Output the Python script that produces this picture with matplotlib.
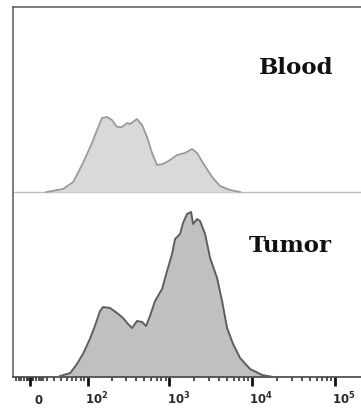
import numpy as np
import matplotlib
matplotlib.use("Agg")
import matplotlib.pyplot as plt
from matplotlib.transforms import ScaledTranslation

# ---------------- data ----------------
blood_x = [20, 44, 63, 86, 113, 131, 151, 175, 201, 232, 267, 307, 334, 406, 468,
           538, 618, 711, 839, 1020, 1240, 1548, 1884, 2163, 2555, 3280, 4100, 5420, 7150]
blood_y = [0, 6, 20, 58, 98, 124, 148, 150, 144, 130, 130, 138, 136, 146, 134,
           110, 78, 54, 56, 64, 74, 78, 86, 78, 58, 30, 12, 4, 0]

tumor_x = [39, 57, 71, 86, 106, 123, 143, 156, 190, 232, 275, 316, 354, 406, 468,
           523, 584, 672, 817, 939, 1079, 1173, 1348, 1465, 1637, 1831, 1935, 2163,
           2350, 2703, 3107, 3770, 4333, 4980, 5886, 7150, 9440, 13190, 17900]
tumor_y = [2, 8, 26, 46, 76, 102, 132, 140, 138, 128, 118, 106, 98, 112, 110,
           102, 122, 152, 176, 212, 246, 276, 286, 308, 326, 330, 306, 316,
           312, 286, 238, 198, 152, 98, 66, 38, 16, 4, 0]

labels = ["Blood", "Tumor"]
major_ticks = [0, 1e2, 1e3, 1e4, 1e5]
major_labels = [r"$\mathbf{0}$", r"$\mathbf{10^{2}}$", r"$\mathbf{10^{3}}$",
                r"$\mathbf{10^{4}}$", r"$\mathbf{10^{5}}$"]
near_zero_ticks = [-16, -13, -10, -7, -4, -2, 2, 4, 7, 10, 13, 16]
minor_ticks = (near_zero_ticks + [k * 10 for k in range(2, 10)] +
               [k * 100 for k in range(2, 10)] + [k * 1000 for k in range(2, 10)] +
               [k * 10000 for k in range(2, 10)])
offset = 370

# ---------------- scale ----------------
W = 41.6
def fwd(x):
    return np.arcsinh(np.asarray(x, dtype=float) / W) / np.log(10)
def inv(u):
    return W * np.sinh(np.asarray(u, dtype=float) * np.log(10))

fig = plt.figure(figsize=(3.61, 4.15), dpi=100)
ax = fig.add_axes([12.5 / 361, 38 / 415, (361 - 12.5) / 361, (377 - 7) / 415])
ax.set_xscale("function", functions=(fwd, inv))
ax.set_xlim(-21, 2.06e5)
ax.set_ylim(0, 2 * offset)

# Blood (upper, offset)
ax.axhline(offset, color="#bdbdbd", lw=1.0, zorder=1)
ax.fill_between(blood_x, offset, np.array(blood_y) + offset, color="#d9d9d9", lw=0, zorder=2)
ax.plot(blood_x, np.array(blood_y) + offset, color="#9a9a9a", lw=1.3, zorder=3)

# Tumor (lower)
ax.fill_between(tumor_x, 0, tumor_y, color="#c0c0c0", lw=0, zorder=2)
ax.plot(tumor_x, tumor_y, color="#5e5e5e", lw=1.4, zorder=3)

ax.text(333 / 361, (415 - 74) / 415, labels[0], transform=fig.transFigure,
        ha="right", va="baseline", fontsize=16.5, fontweight="bold",
        family="DejaVu Serif", color="#111111")
ax.text(332 / 361, (415 - 252) / 415, labels[1], transform=fig.transFigure,
        ha="right", va="baseline", fontsize=16.5, fontweight="bold",
        family="DejaVu Serif", color="#111111")

ax.spines["right"].set_visible(False)
ax.spines["top"].set_color("#666666")
ax.spines["left"].set_color("#666666")
ax.spines["top"].set_linewidth(1.2)
ax.spines["left"].set_linewidth(1.2)
ax.spines["bottom"].set_color("#444444")
ax.spines["bottom"].set_linewidth(1.2)

ax.set_yticks([])
ax.set_xticks(major_ticks)
ax.set_xticklabels(major_labels)
ax.set_xticks(minor_ticks, minor=True)
ax.tick_params(axis="x", which="major", direction="out", length=6.5, width=2.0,
               color="#111111", labelsize=8.5, labelcolor="#2a2a2a", pad=13)
ax.tick_params(axis="x", which="minor", direction="out", length=3.2, width=1.1,
               color="#222222")
for lab in ax.get_xticklabels():
    lab.set_verticalalignment("baseline")
    lab.set_transform(lab.get_transform() + ScaledTranslation(9 / 100, 0, fig.dpi_scale_trans))

fig.savefig("out.png", dpi=100)
